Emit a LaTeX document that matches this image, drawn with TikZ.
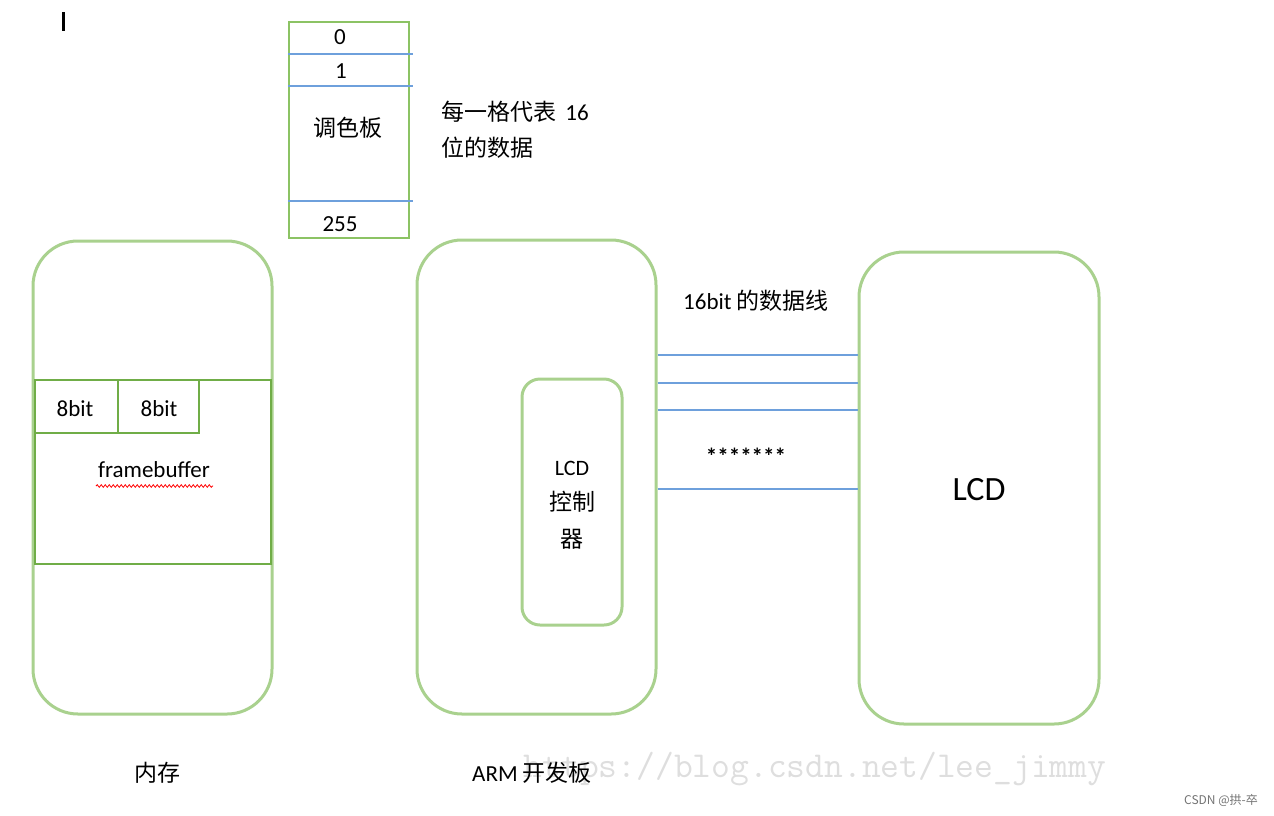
\documentclass[tikz,border=0pt]{standalone}
\usepackage{fontspec}
\setmainfont{Carlito}
\newfontfamily\cjk{Noto Sans CJK SC}
\usetikzlibrary{decorations.pathmorphing}
\definecolor{lgreen}{RGB}{169,209,142}
\definecolor{mgreen}{RGB}{140,195,100}
\definecolor{dgreen}{RGB}{112,173,71}
\definecolor{lblue}{RGB}{110,160,220}
\newcommand{\cjkf}{\fontsize{23}{27}\selectfont\cjk}
\tikzset{
  bigbox/.style={draw=lgreen, line width=3pt, rounded corners=45pt, minimum width=239pt, minimum height=473pt, inner sep=0pt},
  ctrlbox/.style={draw=lgreen, line width=3pt, rounded corners=18pt, minimum width=100pt, minimum height=246pt, inner sep=0pt},
  fbbox/.style={draw=dgreen, line width=2pt, inner sep=0pt},
  palbox/.style={draw=mgreen, line width=2pt, minimum width=120pt, minimum height=216pt, inner sep=0pt},
  sep/.style={draw=lblue, line width=2pt},
  dataline/.style={draw=lblue, line width=2pt},
  txt/.style={font=\fontsize{23}{27}\selectfont, inner sep=0pt},
  ctxt/.style={font=\cjkf, inner sep=0pt},
}
\begin{document}
\begin{tikzpicture}[x=1pt,y=-1pt]
\useasboundingbox (0,0) rectangle (1274,815);
% cursor bar
\coordinate (curA) at (63,12);
\coordinate (curB) at (63,31);
\draw[line width=3pt] (curA) -- (curB);
% watermark
\node[font=\fontsize{36.5}{39}\selectfont\ttfamily, text=black!13, inner sep=0pt] (wm) at (815,769) {https://blog.csdn.net/lee\_jimmy};
\node[font=\fontsize{12}{14}\selectfont\cjk, text=black!55, inner sep=0pt, anchor=east] (csdn) at (1258,800) {CSDN @拱-卒};
% palette
\node[palbox] (pal) at (349,130) {};
\coordinate (p1) at (413,54);
\coordinate (p2) at (413,86);
\coordinate (p3) at (413,201);
\draw[sep] (pal.west |- p1) -- (p1);
\draw[sep] (pal.west |- p2) -- (p2);
\draw[sep] (pal.west |- p3) -- (p3);
\node[txt] (n0) at (340,37) {0};
\node[txt] (n1) at (341,71) {1};
\node[ctxt] (palt) at (348,128) {调色板};
\node[txt] (n255) at (340,224) {255};
\node[txt, anchor=west] (note1) at (441,112) {{\cjkf 每一格代表}\hspace{4pt} 16};
\node[ctxt, anchor=west] (note2) at (441,148) {位的数据};
% memory
\node[bigbox] (mem) at (152.5,477.5) {};
\node[fbbox, minimum width=236pt, minimum height=184pt] (fb) at (153,472) {};
\node[fbbox, minimum width=83pt, minimum height=53pt] (b1) at (76.5,406.5) {};
\node[fbbox, minimum width=81pt, minimum height=53pt] (b2) at (158.5,406.5) {};
\node[txt] (b1t) at (75,409) {8bit};
\node[txt] (b2t) at (159,409) {8bit};
\node[txt] (fbt) at (154,470) {framebuffer};
\coordinate (w1) at (96,486);
\coordinate (w2) at (213,486);
\draw[red, line width=0.8pt, decorate, decoration={snake, amplitude=1.3pt, segment length=4pt}] (w1) -- (w2);
\node[ctxt] (memt) at (157,773) {内存};
% ARM board
\node[bigbox, minimum height=474pt] (arm) at (536.5,477) {};
\node[ctrlbox] (ctrl) at (572,502) {};
\node[txt, font=\fontsize{22}{26}\selectfont] (ctrl1) at (572,468) {LCD};
\node[ctxt] (ctrl2) at (572,502) {控制};
\node[ctxt] (ctrl3) at (572,539) {器};
\node[txt, anchor=west] (armt) at (472,773) {ARM {\cjkf 开发板}};
% LCD
\node[bigbox, minimum width=240pt, minimum height=472pt] (lcd) at (979,488) {};
\node[font=\fontsize{34}{40}\selectfont, inner sep=0pt] (lcdt) at (979,490) {LCD};
% data lines
\coordinate (y1) at (0,355);
\coordinate (y2) at (0,383);
\coordinate (y3) at (0,410);
\coordinate (y4) at (0,489);
\draw[dataline] (arm.east |- y1) -- (lcd.west |- y1);
\draw[dataline] (arm.east |- y2) -- (lcd.west |- y2);
\draw[dataline] (arm.east |- y3) -- (lcd.west |- y3);
\draw[dataline] (arm.east |- y4) -- (lcd.west |- y4);
\node[txt, anchor=west] (bus) at (683,301) {16bit {\cjkf 的数据线}};
\node[txt, font=\bfseries\fontsize{23}{27}\selectfont] (stars) at (746,456) {*******};
\end{tikzpicture}
\end{document}
